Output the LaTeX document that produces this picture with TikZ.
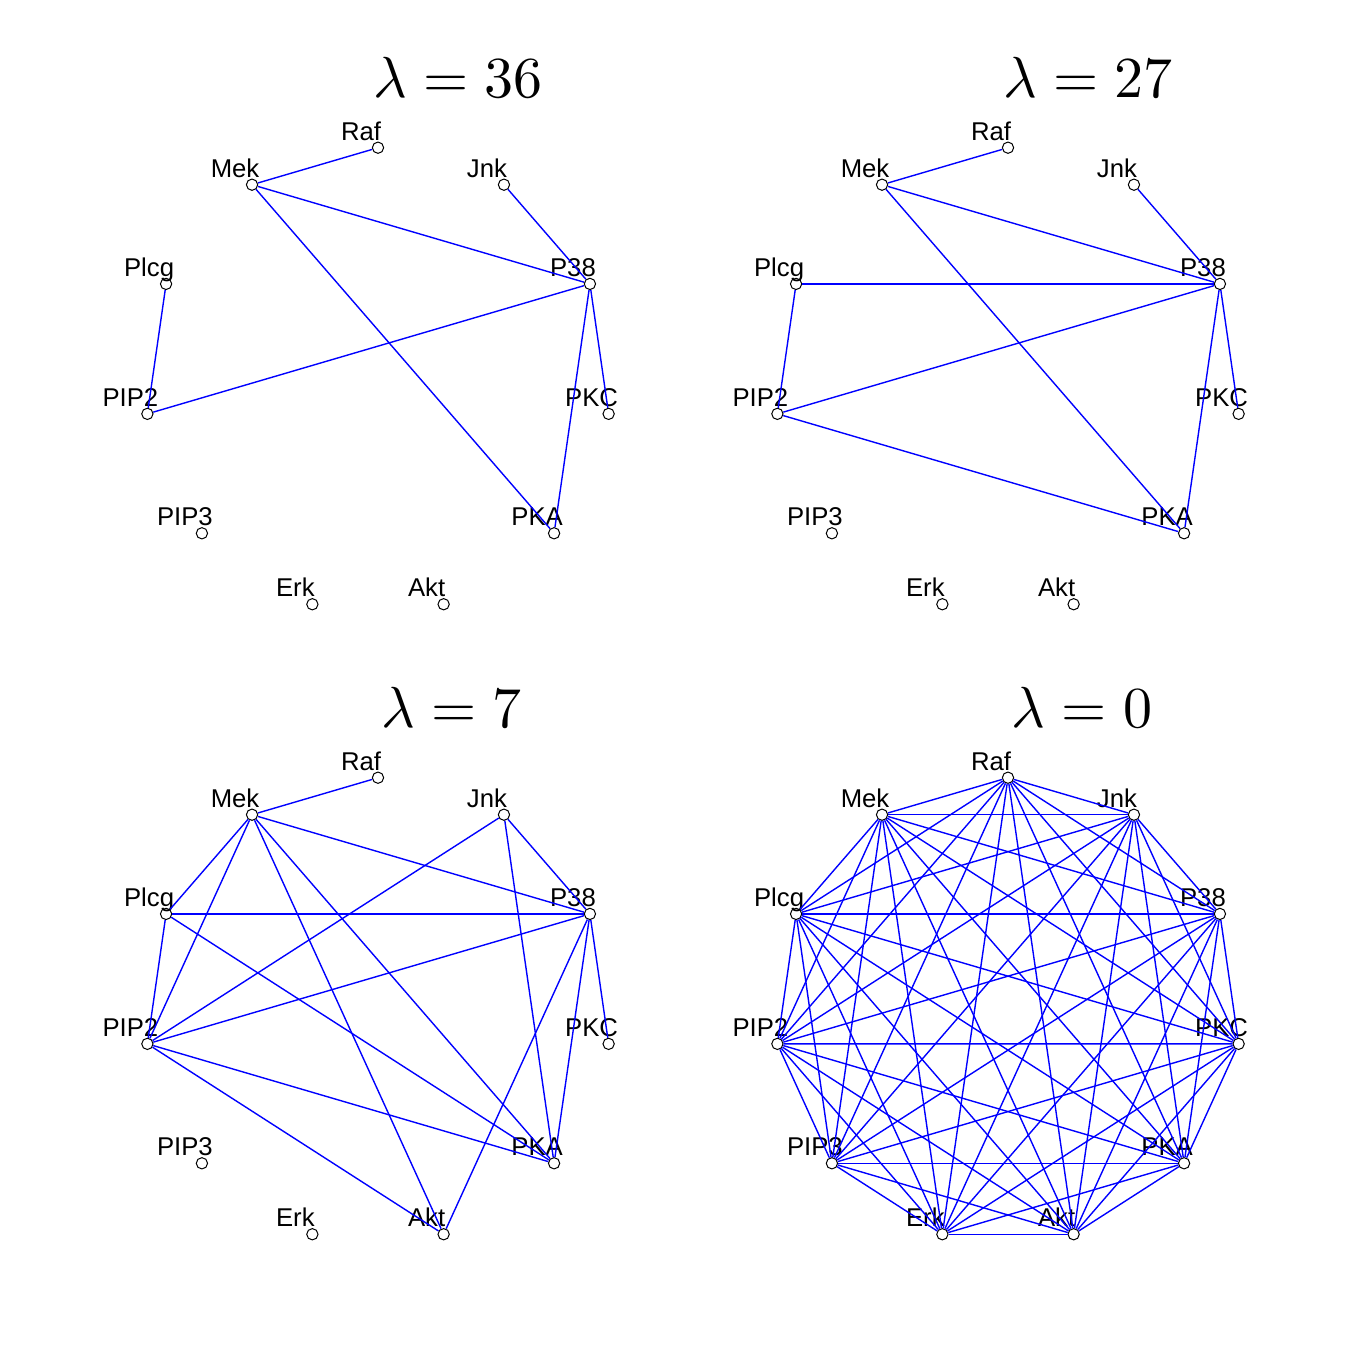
\documentclass[tikz,border=0pt]{standalone}
\usepackage{fontspec}
\newfontfamily\genefont{Liberation Sans}
\usetikzlibrary{calc}
\tikzset{>=latex}
\tikzset{gene/.style={circle,draw=black,fill=white,inner sep=0pt,minimum size=11.3pt,line width=1pt},
  genelabel/.style={anchor=base,inner sep=0pt,font=\genefont\fontsize{25.7}{30}\selectfont},
  edge/.style={draw=blue,line width=1.4pt},
  lamtitle/.style={anchor=base,inner sep=0pt,scale=5.8}}
\newcommand{\genelist}{Raf,Jnk,P38,PKC,PKA,Akt,Erk,PIP3,PIP2,Plcg,Mek}

\begin{document}
\begin{tikzpicture}[x=1pt,y=1pt]
\useasboundingbox (0,0) rectangle (1346,-1357);
% four panels, genes on a circle
\foreach \p/\ox/\oy/\tx/\lam in {1/0/0/458/36, 2/630/0/458/27, 3/0/-630/452/7, 4/630/-630/452/0} {
  \begin{scope}[shift={(\ox,\oy)}]
  \node[lamtitle] (t\p) at (\tx,-97) {$\lambda = \lam$};
  \foreach \g [count=\k from 0] in \genelist {
    \node[gene] (p\p\g) at ($(378,-380.7)+({90-\k*360/11}:233)$) {};
    \node[genelabel] (l\p\g) at ($(p\p\g)+(-17,7.5)$) {\g};
  }
  \end{scope}
}
% lambda = 36
\foreach \a/\b in {Raf/Mek, Mek/P38, Mek/PKA, Jnk/P38, Plcg/PIP2, PIP2/P38, P38/PKC, P38/PKA}
  \draw[edge] (p1\a) -- (p1\b);
% lambda = 27
\foreach \a/\b in {Raf/Mek, Mek/P38, Mek/PKA, Jnk/P38, Plcg/P38, Plcg/PIP2, PIP2/P38, PIP2/PKA, P38/PKC, P38/PKA}
  \draw[edge] (p2\a) -- (p2\b);
% lambda = 7
\foreach \a/\b in {Raf/Mek, Mek/Plcg, Mek/PIP2, Mek/Akt, Mek/PKA, Mek/P38, Jnk/PIP2, Jnk/PKA, Jnk/P38,
    Plcg/P38, Plcg/PIP2, Plcg/PKA, PIP2/P38, PIP2/PKA, PIP2/Akt, P38/PKC, P38/PKA, P38/Akt}
  \draw[edge] (p3\a) -- (p3\b);
% lambda = 0, every pair
\foreach \a [count=\i] in \genelist {
  \foreach \b [count=\j] in \genelist {
    \ifnum\i<\j \draw[edge] (p4\a) -- (p4\b); \fi
  }
}
\end{tikzpicture}
\end{document}
